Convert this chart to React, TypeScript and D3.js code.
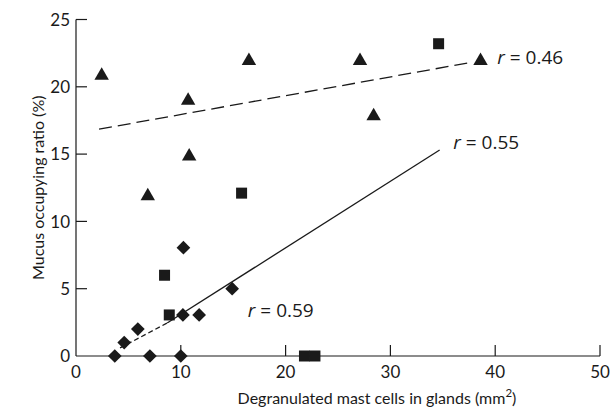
import React from 'react';
import * as d3 from 'd3';

// triangles, squares and diamonds
const triangles: [number, number][] = [
  [2.45, 20.9], [6.85, 11.95], [10.7, 19.05], [10.8, 14.9],
  [16.5, 22], [27.1, 22], [28.4, 17.9], [38.6, 22],
];
const squares: [number, number][] = [
  [8.45, 6], [8.9, 3.05], [15.8, 12.1], [21.8, 0], [22.8, 0], [34.6, 23.2],
];
const diamonds: [number, number][] = [
  [3.7, 0], [4.6, 1], [5.9, 2], [7.05, 0], [10, 0],
  [10.2, 3.05], [11.75, 3.05], [10.25, 8.05], [14.9, 5],
];

// fitted lines (end points) and their labels
const lineTri: [number, number][] = [[2.2, 16.85], [37.6, 21.8]];
const lineAll: [number, number][] = [[8.7, 2.45], [34.7, 15.3]];
const lineDia: [number, number][] = [[4.2, 0.6], [8.7, 2.45]];
const labels = [
  { x: 40.2, y: 22.2, text: '0.46' },
  { x: 36.0, y: 15.9, text: '0.55' },
  { x: 16.4, y: 3.4, text: '0.59' },
];

const xTicks = [0, 10, 20, 30, 40, 50];
const yTicks = [0, 5, 10, 15, 20, 25];

const font = 'Lato, "Open Sans", sans-serif';
const ink = '#1a1a1a';

export default function App() {
  const x = d3.scaleLinear().domain([0, 50]).range([76, 600]);
  const y = d3.scaleLinear().domain([0, 25]).range([356, 19.5]);
  const line = d3.line<[number, number]>().x(d => x(d[0])).y(d => y(d[1]));
  const tri = d3.symbol().type(d3.symbolTriangle).size(90)();
  const dia = d3.symbol().type(d3.symbolDiamond2).size(120)();

  return (
    <svg width={613} height={415} style={{ position: 'absolute', left: 0, top: 0, background: '#fff' }}
      fontFamily={font}>
      {/* axes */}
      <g stroke={ink} strokeWidth={1.2} fill="none">
        <line x1={x(0)} x2={x(0)} y1={y(25)} y2={y(0)} />
        <line x1={x(0)} x2={x(50)} y1={y(0)} y2={y(0)} />
        {yTicks.slice(1).map(t => (
          <line key={t} x1={x(0)} x2={x(0) + 11} y1={y(t)} y2={y(t)} />
        ))}
        {xTicks.slice(1).map(t => (
          <line key={t} x1={x(t)} x2={x(t)} y1={y(0)} y2={y(0) - 11} />
        ))}
      </g>
      <g fill={ink} fontSize={17}>
        {yTicks.map(t => (
          <text key={t} x={x(0) - 6} y={y(t)} dy="0.36em" textAnchor="end">{t}</text>
        ))}
        {xTicks.map(t => (
          <text key={t} x={x(t)} y={378} textAnchor="middle">{t}</text>
        ))}
      </g>
      <g fill={ink} fontSize={16}>
        <text x={377} y={404} textAnchor="middle">
          Degranulated mast cells in glands (mm<tspan fontSize={11.5} dy={-7}>2</tspan><tspan dy={7}>)</tspan>
        </text>
        <text transform={`translate(44,${y(12.5)}) rotate(-90)`} textAnchor="middle">
          Mucus occupying ratio (%)
        </text>
      </g>

      {/* fitted lines */}
      <path d={line(lineTri) ?? ''} stroke={ink} strokeWidth={1.3} fill="none" strokeDasharray="13 6" />
      <path d={line(lineAll) ?? ''} stroke={ink} strokeWidth={1.3} fill="none" />
      <path d={line(lineDia) ?? ''} stroke={ink} strokeWidth={1.3} fill="none" strokeDasharray="5 3" />

      {/* points */}
      <g fill={ink}>
        {triangles.map((d, i) => (
          <path key={'t' + i} d={tri ?? ''} transform={`translate(${x(d[0])},${y(d[1]) + 1})`} />
        ))}
        {squares.map((d, i) => (
          <rect key={'s' + i} x={x(d[0]) - 5.5} y={y(d[1]) - 5.5} width={11} height={11} />
        ))}
        {diamonds.map((d, i) => (
          <path key={'d' + i} d={dia ?? ''} transform={`translate(${x(d[0])},${y(d[1])})`} />
        ))}
      </g>

      {/* r labels */}
      <g fill={ink} fontSize={19} fontFamily='"Open Sans", Lato, sans-serif'>
        {labels.map(l => (
          <text key={l.text} x={x(l.x)} y={y(l.y)} dy="0.36em">
            <tspan fontStyle="italic">r</tspan> = {l.text}
          </text>
        ))}
      </g>
    </svg>
  );
}
